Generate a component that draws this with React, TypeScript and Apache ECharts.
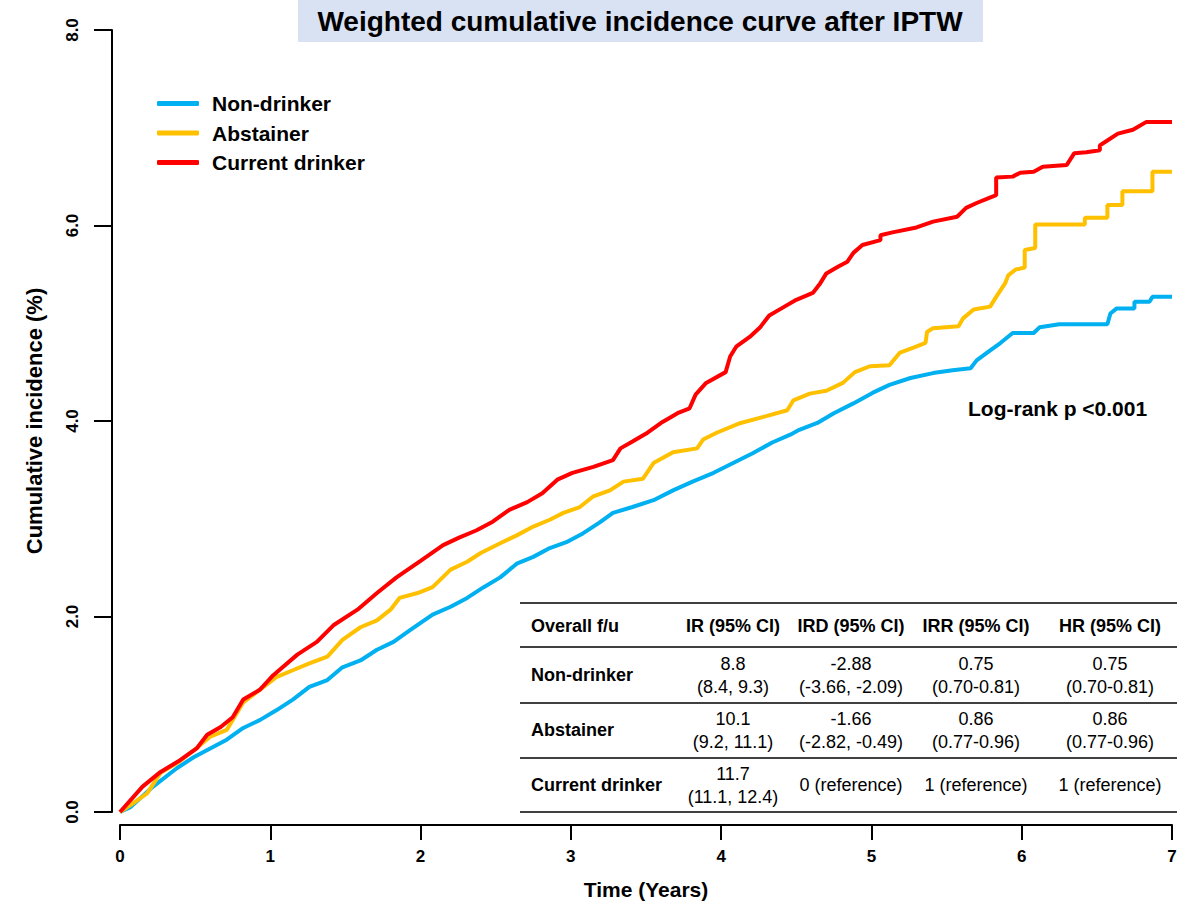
import React, { useEffect, useRef } from "react";
import * as echarts from "echarts";

const FONT = '"Liberation Sans", Arial, Helvetica, sans-serif';

const seriesNames = ["Non-drinker", "Abstainer", "Current drinker"];
const seriesColors = ["#00b0f0", "#ffc000", "#ff0000"];

// [time (years), cumulative incidence (%)]
const nonDrinker: number[][] = [
  [0, 0], [0.07, 0.05], [0.22, 0.26], [0.38, 0.45], [0.49, 0.56], [0.6, 0.65], [0.71, 0.74],
  [0.82, 0.86], [0.93, 0.94], [1.04, 1.04], [1.15, 1.15], [1.26, 1.28], [1.38, 1.35],
  [1.48, 1.48], [1.6, 1.55], [1.71, 1.66], [1.82, 1.74], [1.93, 1.86], [2.08, 2.02],
  [2.2, 2.1], [2.31, 2.19], [2.42, 2.3], [2.53, 2.4], [2.64, 2.54], [2.75, 2.61],
  [2.86, 2.7], [2.97, 2.76], [3.08, 2.85], [3.19, 2.96], [3.28, 3.06], [3.41, 3.12],
  [3.55, 3.19], [3.68, 3.29], [3.81, 3.38], [3.95, 3.47], [4.08, 3.57], [4.21, 3.67],
  [4.34, 3.78], [4.46, 3.86], [4.52, 3.91], [4.64, 3.98], [4.75, 4.08], [4.88, 4.18],
  [5.01, 4.29], [5.12, 4.37], [5.26, 4.44], [5.41, 4.49], [5.54, 4.52], [5.66, 4.54],
  [5.7, 4.62], [5.77, 4.7], [5.86, 4.8], [5.94, 4.9], [6.08, 4.9], [6.12, 4.96],
  [6.25, 4.99], [6.57, 4.99], [6.59, 5.1], [6.63, 5.15], [6.75, 5.15], [6.75, 5.22],
  [6.85, 5.22], [6.87, 5.27], [7.0, 5.27],
];

const abstainer: number[][] = [
  [0, 0], [0.07, 0.07], [0.18, 0.19], [0.27, 0.4], [0.38, 0.5], [0.49, 0.63], [0.6, 0.77],
  [0.71, 0.84], [0.82, 1.12], [0.93, 1.25], [1.04, 1.38], [1.15, 1.45], [1.26, 1.52],
  [1.38, 1.59], [1.48, 1.76], [1.6, 1.89], [1.71, 1.96], [1.8, 2.07], [1.86, 2.19],
  [1.98, 2.24], [2.08, 2.3], [2.2, 2.48], [2.31, 2.56], [2.4, 2.65], [2.53, 2.75],
  [2.64, 2.83], [2.75, 2.92], [2.86, 2.99], [2.95, 3.06], [3.06, 3.12], [3.15, 3.23],
  [3.26, 3.29], [3.35, 3.38], [3.48, 3.41], [3.55, 3.57], [3.68, 3.68], [3.84, 3.72],
  [3.88, 3.81], [3.97, 3.88], [4.13, 3.98], [4.3, 4.05], [4.44, 4.11], [4.48, 4.21],
  [4.59, 4.28], [4.7, 4.31], [4.81, 4.39], [4.89, 4.5], [4.99, 4.56], [5.12, 4.57],
  [5.19, 4.7], [5.28, 4.75], [5.36, 4.8], [5.37, 4.91], [5.41, 4.95], [5.58, 4.97],
  [5.61, 5.05], [5.68, 5.14], [5.79, 5.17], [5.83, 5.27], [5.89, 5.41], [5.91, 5.49],
  [5.96, 5.55], [6.02, 5.57], [6.02, 5.75], [6.09, 5.77], [6.09, 6.01], [6.42, 6.01],
  [6.42, 6.08], [6.57, 6.08], [6.57, 6.21], [6.67, 6.21], [6.67, 6.35], [6.87, 6.35],
  [6.87, 6.55], [7.0, 6.55],
];

const currentDrinker: number[][] = [
  [0, 0], [0.15, 0.26], [0.27, 0.41], [0.4, 0.53], [0.51, 0.65], [0.58, 0.79], [0.67, 0.87],
  [0.75, 0.97], [0.82, 1.15], [0.93, 1.25], [1.02, 1.4], [1.18, 1.61], [1.31, 1.74],
  [1.42, 1.91], [1.58, 2.07], [1.71, 2.24], [1.84, 2.4], [2.0, 2.57], [2.15, 2.73],
  [2.26, 2.81], [2.37, 2.88], [2.48, 2.97], [2.59, 3.09], [2.71, 3.17], [2.81, 3.26],
  [2.91, 3.4], [3.01, 3.47], [3.15, 3.53], [3.28, 3.6], [3.33, 3.72], [3.41, 3.79],
  [3.51, 3.88], [3.61, 3.99], [3.71, 4.08], [3.79, 4.13], [3.83, 4.27], [3.9, 4.39],
  [4.03, 4.5], [4.06, 4.66], [4.1, 4.76], [4.19, 4.86], [4.26, 4.96], [4.32, 5.08],
  [4.41, 5.16], [4.5, 5.24], [4.61, 5.31], [4.66, 5.41], [4.7, 5.51], [4.78, 5.58],
  [4.84, 5.63], [4.88, 5.72], [4.94, 5.8], [5.06, 5.85], [5.06, 5.9], [5.14, 5.93],
  [5.3, 5.98], [5.41, 6.04], [5.57, 6.09], [5.63, 6.18], [5.7, 6.23], [5.78, 6.28],
  [5.83, 6.31], [5.83, 6.49], [5.94, 6.5], [5.99, 6.54], [6.08, 6.55], [6.14, 6.6],
  [6.3, 6.62], [6.35, 6.74], [6.43, 6.75], [6.52, 6.77], [6.52, 6.82], [6.57, 6.87],
  [6.64, 6.94], [6.74, 6.98], [6.83, 7.06], [7.0, 7.06],
];

const titleText = "Weighted cumulative incidence curve after IPTW";
const logRankText = "Log-rank p <0.001";

const tableHeader = ["Overall f/u", "IR (95% CI)", "IRD (95% CI)", "IRR (95% CI)", "HR (95% CI)"];
const rowLabels = ["Non-drinker", "Abstainer", "Current drinker"];
const irValues = ["8.8\n(8.4, 9.3)", "10.1\n(9.2, 11.1)", "11.7\n(11.1, 12.4)"];
const irdValues = ["-2.88\n(-3.66, -2.09)", "-1.66\n(-2.82, -0.49)", "0 (reference)"];
const irrValues = ["0.75\n(0.70-0.81)", "0.86\n(0.77-0.96)", "1 (reference)"];
const hrValues = ["0.75\n(0.70-0.81)", "0.86\n(0.77-0.96)", "1 (reference)"];

function txt(text: string, x: number, y: number, size: number, bold: boolean, align = "center", lineHeight?: number) {
  return {
    type: "text",
    x,
    y,
    silent: true,
    style: {
      text,
      fill: "#000",
      fontSize: size,
      fontWeight: bold ? "bold" : "normal",
      fontFamily: FONT,
      align,
      verticalAlign: "middle",
      textAlign: align,
      textVerticalAlign: "middle",
      lineHeight: lineHeight || size * 1.2,
    },
  };
}

function hline(x1: number, x2: number, y: number) {
  return {
    type: "line",
    silent: true,
    shape: { x1, y1: y, x2, y2: y },
    style: { stroke: "#000", lineWidth: 1.5 },
  };
}

export default function App() {
  const ref = useRef<HTMLDivElement>(null);
  useEffect(() => {
    if (!ref.current) return;
    const chart = echarts.init(ref.current, undefined, { renderer: "svg" });

    const colX = [531, 733, 851, 976, 1110];
    const rowY = [675, 730, 785];
    const lineYs = [603, 647, 703, 758, 812];
    const tableEls: any[] = [];
    lineYs.forEach((y) => tableEls.push(hline(520, 1177, y)));
    tableHeader.forEach((h, i) => tableEls.push(txt(h, colX[i], 626, 18, true, i === 0 ? "left" : "center")));
    rowLabels.forEach((r, i) => {
      tableEls.push(txt(r, colX[0], rowY[i], 18, true, "left"));
      [irValues, irdValues, irrValues, hrValues].forEach((col, j) => {
        tableEls.push(txt(col[i], colX[j + 1], rowY[i], 18, false, "center", 23));
      });
    });

    const data = [nonDrinker, abstainer, currentDrinker];

    chart.setOption({
      animation: false,
      backgroundColor: "#fff",
      textStyle: { fontFamily: FONT },
      grid: { left: 120, right: 20, top: 30, bottom: 97, containLabel: false },
      legend: {
        left: 152,
        top: 88,
        orient: "vertical",
        icon: "roundRect",
        itemWidth: 42,
        itemHeight: 5,
        itemGap: 8.5,
        selectedMode: false,
        data: seriesNames,
        textStyle: { fontSize: 21, fontWeight: "bold", color: "#000", fontFamily: FONT, lineHeight: 21, padding: [0, 0, 0, 8] },
      },
      xAxis: {
        type: "value",
        min: 0,
        max: 7,
        interval: 1,
        offset: 13,
        axisLine: { show: true, onZero: false, lineStyle: { color: "#000", width: 2 } },
        axisTick: { show: true, length: 15, lineStyle: { color: "#000", width: 2 } },
        axisLabel: { fontSize: 17, fontWeight: "bold", color: "#000", margin: 23, fontFamily: FONT },
        splitLine: { show: false },
        name: "Time (Years)",
        nameLocation: "middle",
        nameGap: 54,
        nameTextStyle: { fontSize: 21, fontWeight: "bold", color: "#000", fontFamily: FONT },
      },
      yAxis: {
        type: "value",
        min: 0,
        max: 8,
        interval: 2,
        offset: 8,
        axisLine: { show: true, onZero: false, lineStyle: { color: "#000", width: 2 } },
        axisTick: { show: true, length: 18, lineStyle: { color: "#000", width: 2 } },
        axisLabel: {
          rotate: 90,
          fontSize: 17,
          fontWeight: "bold",
          color: "#000",
          margin: 31,
          fontFamily: FONT,
          formatter: (v: number) => v.toFixed(1),
        },
        splitLine: { show: false },
        name: "Cumulative incidence (%)",
        nameLocation: "middle",
        nameGap: 67,
        nameTextStyle: { fontSize: 22, fontWeight: "bold", color: "#000", fontFamily: FONT },
      },
      graphic: [
        {
          type: "rect",
          silent: true,
          shape: { x: 298, y: 0, width: 685, height: 42 },
          style: { fill: "#d9e2f3" },
        },
        txt(titleText, 640, 21, 28, true),
        txt(logRankText, 968, 408, 21, true, "left"),
        ...tableEls,
      ],
      series: data.map((d, i) => ({
        name: seriesNames[i],
        type: "line",
        data: d,
        showSymbol: false,
        symbol: "none",
        lineStyle: { color: seriesColors[i], width: 4 },
        itemStyle: { color: seriesColors[i] },
        z: 2 + i,
      })),
    });
    return () => chart.dispose();
  }, []);
  return <div ref={ref} style={{ position: "absolute", left: 0, top: 0, width: 1192, height: 909 }} />;
}
